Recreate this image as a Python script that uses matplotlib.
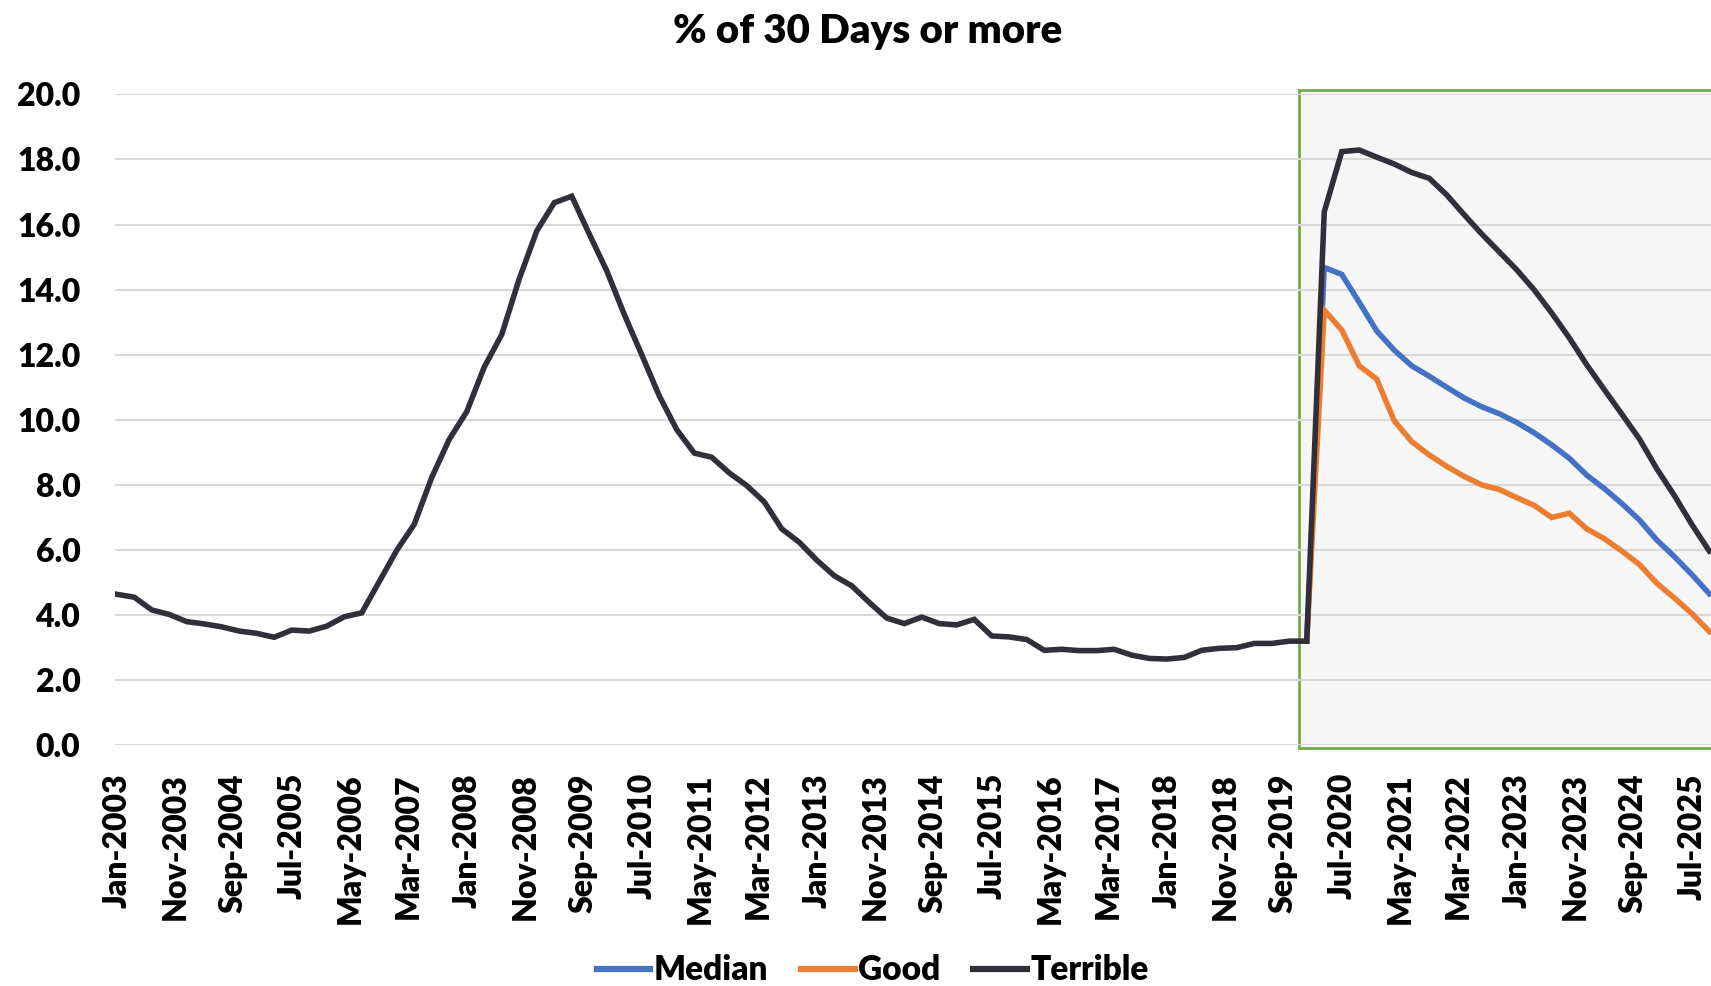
import numpy as np
import matplotlib.pyplot as plt
from matplotlib.patches import Rectangle
from matplotlib.lines import Line2D

plt.rcParams['font.family'] = ['Lato', 'DejaVu Sans']
plt.rcParams['font.weight'] = 'heavy'

# quarterly points starting Jan-2003, x given in months since Jan-2003
terrible = [4.64, 4.55, 4.16, 4.02, 3.80, 3.73, 3.64, 3.51, 3.44, 3.32,
            3.54, 3.51, 3.66, 3.95, 4.07, 5.03, 5.99, 6.79, 8.23, 9.40,
            10.25, 11.62, 12.62, 14.33, 15.80, 16.67, 16.87, 15.71, 14.58, 13.24,
            12.00, 10.74, 9.70, 8.98, 8.85, 8.37, 7.98, 7.48, 6.65, 6.24,
            5.69, 5.21, 4.90, 4.39, 3.91, 3.74, 3.94, 3.74, 3.70, 3.87,
            3.36, 3.33, 3.25, 2.92, 2.95, 2.91, 2.91, 2.95, 2.77, 2.67,
            2.65, 2.70, 2.92, 2.98, 3.00, 3.13, 3.13, 3.20, 3.20, 16.39,
            18.24, 18.29, 18.07, 17.86, 17.60, 17.42, 16.91, 16.30, 15.71, 15.16,
            14.61, 13.99, 13.28, 12.52, 11.69, 10.93, 10.18, 9.42, 8.50, 7.68,
            6.79, 5.97]
# scenario series start at the 68th quarter (Jan-2020)
scen_start = 68
median = [3.20, 14.68, 14.47, 13.61, 12.73, 12.14, 11.66, 11.34, 11.00, 10.67,
          10.40, 10.19, 9.92, 9.60, 9.23, 8.82, 8.30, 7.89, 7.43, 6.93,
          6.31, 5.80, 5.25, 4.66]
good = [3.20, 13.37, 12.76, 11.66, 11.25, 9.97, 9.33, 8.92, 8.57, 8.26,
        8.00, 7.86, 7.61, 7.37, 7.00, 7.13, 6.65, 6.35, 5.97, 5.56,
        4.98, 4.53, 4.05, 3.50]

tick_labels = ["Jan-2003", "Nov-2003", "Sep-2004", "Jul-2005", "May-2006", "Mar-2007",
               "Jan-2008", "Nov-2008", "Sep-2009", "Jul-2010", "May-2011", "Mar-2012",
               "Jan-2013", "Nov-2013", "Sep-2014", "Jul-2015", "May-2016", "Mar-2017",
               "Jan-2018", "Nov-2018", "Sep-2019", "Jul-2020", "May-2021", "Mar-2022",
               "Jan-2023", "Nov-2023", "Sep-2024", "Jul-2025"]

x_all = np.arange(len(terrible)) * 3
x_scen = (scen_start + np.arange(len(median))) * 3
tick_pos = np.arange(len(tick_labels)) * 10

c_med = "#4472c4"
c_good = "#ed7d31"
c_ter = "#30303a"

fig = plt.figure(figsize=(17.11, 9.86), dpi=100)
ax = fig.add_axes([0.0672, 0.2441, 0.9328, 0.6602])

ax.set_xlim(-0.3, 273.3)
ax.set_ylim(0, 20)

# shaded forecast box
box = Rectangle((202.6, -0.08), 80, 20.2, facecolor="#f7f7f7", edgecolor="#70ad47",
                linewidth=2, zorder=0.2, clip_on=False)
ax.add_patch(box)

ax.set_axisbelow(True)
ax.grid(axis="y", color="#d9d9d9", linewidth=1.5, zorder=0.5)

ax.plot(x_scen, median, color=c_med, lw=4, solid_joinstyle="miter", zorder=2)
ax.plot(x_scen, good, color=c_good, lw=4, solid_joinstyle="miter", zorder=2)
ax.plot(x_all, terrible, color=c_ter, lw=4, solid_joinstyle="miter", zorder=3)

ax.set_yticks(np.arange(0, 20.1, 2))
ax.set_yticklabels([f"{v:.1f}" for v in np.arange(0, 20.1, 2)])
ax.set_xticks(tick_pos)
ax.set_xticklabels(tick_labels, rotation=90)
ax.tick_params(axis="both", length=0, labelsize=23)
ax.tick_params(axis="x", pad=20)
ax.tick_params(axis="y", pad=25)
for s in ax.spines.values():
    s.set_visible(False)

fig.text(0.507, 0.968, "% of 30 Days or more", ha="center", va="center",
         fontsize=29, fontweight="heavy")

handles = [Line2D([], [], color=c_med, lw=4.5),
           Line2D([], [], color=c_good, lw=4.5),
           Line2D([], [], color=c_ter, lw=4.5)]
fig.legend(handles, ["Median", "Good", "Terrible"], loc="center",
           bbox_to_anchor=(0.51, 0.016), ncol=3, frameon=False, fontsize=24,
           handlelength=1.6, handletextpad=0.1, columnspacing=1.0)

fig.savefig("out.png", dpi=100)
